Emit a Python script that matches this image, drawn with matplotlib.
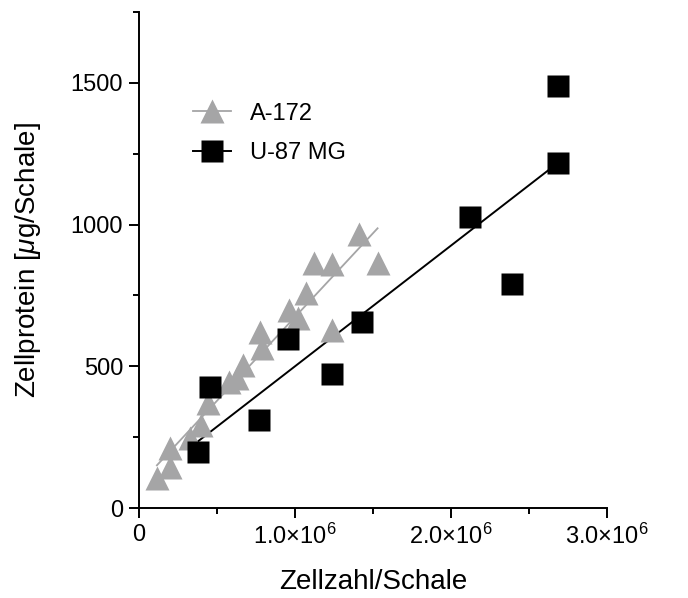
import numpy as np
import matplotlib.pyplot as plt
from matplotlib.ticker import FixedLocator, MultipleLocator

plt.rcParams['font.family'] = 'Liberation Sans'
plt.rcParams['mathtext.fontset'] = 'custom'
plt.rcParams['mathtext.rm'] = 'Liberation Sans'
plt.rcParams['mathtext.it'] = 'Liberation Sans:italic'

# cell count per dish (x 1e6) and cell protein per dish (ug)
a172_cells = [0.115, 0.20, 0.20, 0.33, 0.40, 0.44, 0.58, 0.63, 0.67, 0.775,
              0.79, 0.96, 1.02, 1.07, 1.12, 1.24, 1.24, 1.41, 1.53]
a172_protein = [106, 144, 211, 246, 292, 370, 444, 458, 503, 620,
                563, 697, 669, 757, 866, 862, 627, 968, 866]

u87_cells = [0.38, 0.455, 0.77, 0.955, 1.24, 1.43, 2.12, 2.39, 2.69, 2.69]
u87_protein = [197, 426, 310, 595, 472, 655, 1025, 789, 1218, 1490]

xtick_vals = [0, 1.0e6, 2.0e6, 3.0e6]
xtick_labels = ['0', '1.0×10$^{6}$', '2.0×10$^{6}$', '3.0×10$^{6}$']
ytick_vals = [0, 500, 1000, 1500]

grey = '#a5a5a6'

fig = plt.figure(figsize=(6.88, 5.98), dpi=100)
ax = fig.add_axes([0.202, 0.1505, 0.68, 0.8295])

def fit_line(x, y):
    x = np.asarray(x) * 1e6
    k, d = np.polyfit(x, y, 1)
    xs = np.array([x.min(), x.max()])
    return xs, k * xs + d

xs, ys = fit_line(a172_cells, a172_protein)
ax.plot(xs, ys, color=grey, lw=1.3, zorder=2)
xs, ys = fit_line(u87_cells, u87_protein)
ax.plot(xs, ys, color='black', lw=1.4, zorder=2)

ax.plot(np.array(a172_cells) * 1e6, a172_protein, ls='none', marker='^',
        ms=17, color=grey, mec='none', zorder=3)
ax.plot(np.array(u87_cells) * 1e6, u87_protein, ls='none', marker='s',
        ms=16, color='black', mec='none', zorder=3)

# legend handles: line with marker
h1, = ax.plot([], [], color=grey, lw=1.3, marker='^', ms=17, mec='none')
h2, = ax.plot([], [], color='black', lw=1.4, marker='s', ms=16, mec='none')
ax.legend([h1, h2], ['A-172', 'U-87 MG'], frameon=False, fontsize=17,
          loc='upper left', bbox_to_anchor=(0.07, 0.86), handlelength=1.6,
          handletextpad=0.8, labelspacing=0.75)

ax.set_xlim(0, 3.0e6)
ax.set_ylim(0, 1750)
ax.xaxis.set_major_locator(FixedLocator(xtick_vals))
ax.set_xticklabels(xtick_labels)
ax.xaxis.set_minor_locator(MultipleLocator(0.5e6))
ax.yaxis.set_major_locator(FixedLocator(ytick_vals))
ax.yaxis.set_minor_locator(MultipleLocator(250))

for s in ['top', 'right']:
    ax.spines[s].set_visible(False)
for s in ['left', 'bottom']:
    ax.spines[s].set_linewidth(1.4)

ax.tick_params(which='major', direction='out', length=7.5, width=1.4,
               labelsize=17, pad=4)
ax.tick_params(which='minor', direction='out', length=4.5, width=1.4)

ax.set_xlabel('Zellzahl/Schale', fontsize=20, labelpad=14)
ax.set_ylabel('Zellprotein [$\\mu$g/Schale]', fontsize=20, labelpad=20)

fig.savefig('out.png', dpi=100)
